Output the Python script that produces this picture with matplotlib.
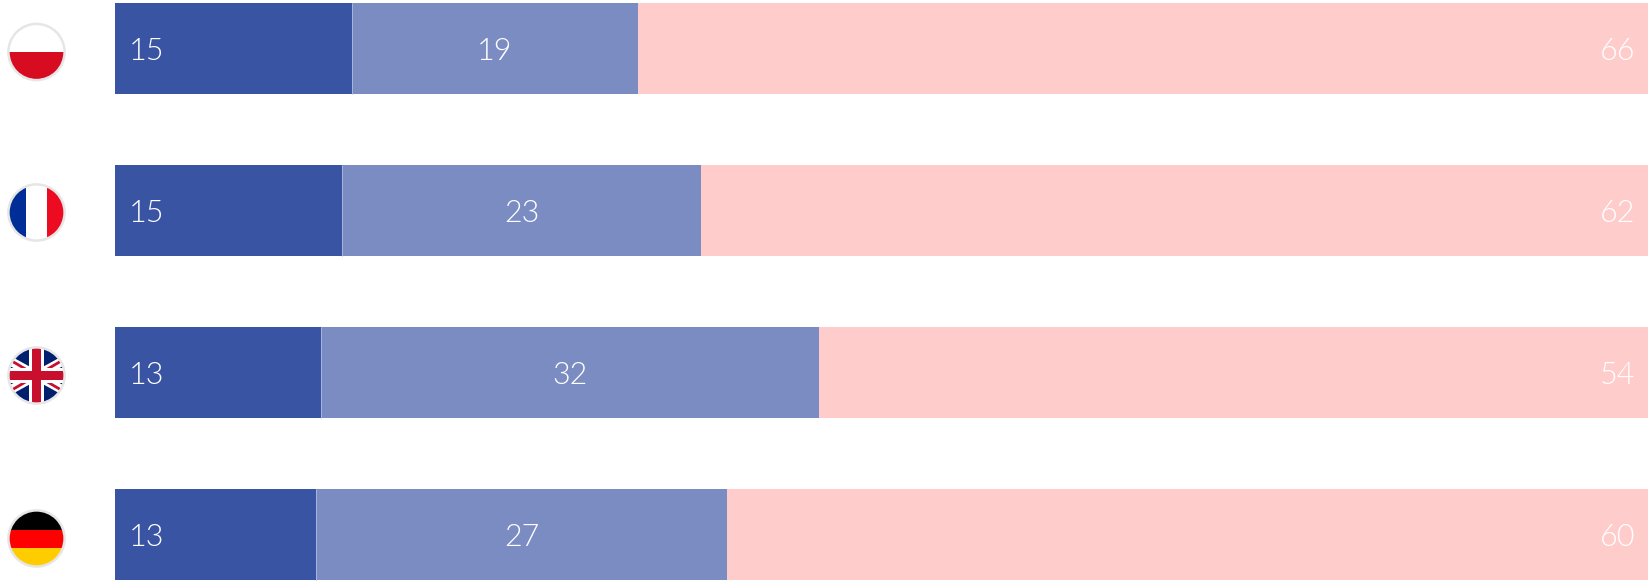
import matplotlib
matplotlib.use('Agg')
import matplotlib.pyplot as plt
import matplotlib.patches as patches

# values, labels as printed in the bars
countries = ['PL', 'FR', 'UK', 'DE']
first = [15.43, 14.77, 13.4, 13.1]
second = [18.67, 23.46, 32.5, 26.8]
third = [65.9, 61.77, 54.1, 60.1]
first_labels = ['15', '15', '13', '13']
second_labels = ['19', '23', '32', '27']
third_labels = ['66', '62', '54', '60']

colors = ['#3A54A4', '#7B8CC2', '#FFCCCC']
W, H = 1649, 582
bar_left = 115
pitch = 162.0
first_center = 48.3

plt.rcParams['font.family'] = ['Lato', 'DejaVu Sans']

fig = plt.figure(figsize=(W / 100, H / 100), dpi=100)
ax = fig.add_axes([bar_left / W, 0, 1 - bar_left / W, 1])
ax.set_xlim(0, 100)
ax.set_ylim((H - first_center) / pitch, -first_center / pitch)
ax.axis('off')

rows = range(len(countries))
height = 91 / pitch
lefts = [0] * len(countries)
for vals, col in zip([first, second, third], colors):
    ax.barh(rows, vals, left=lefts, height=height, color=col, linewidth=0)
    lefts = [a + b for a, b in zip(lefts, vals)]

# faint light seam between the two blue segments
for i in rows:
    ax.vlines(first[i], i - height / 2, i + height / 2, color='#A9B5DC', lw=0.7)

text_style = dict(color='white', fontsize=22, fontweight=300, va='center_baseline')
for i in rows:
    ax.annotate(first_labels[i], (0, i), xytext=(10, 0), textcoords='offset points', ha='left', **text_style)
    ax.text(first[i] + second[i] / 2, i, second_labels[i], ha='center', **text_style)
    ax.annotate(third_labels[i], (100, i), xytext=(-10, 0), textcoords='offset points', ha='right', **text_style)

# flags live in their own pixel-space axes
fax = fig.add_axes([0, 0, 1, 1])
fax.set_xlim(0, W)
fax.set_ylim(H, 0)
fax.axis('off')
fax.patch.set_alpha(0)

R = 27.5


def rect(cx, cy, x0, y0, x1, y1, color, clip):
    p = patches.Rectangle((cx + x0, cy + y0), x1 - x0, y1 - y0, color=color, lw=0)
    fax.add_patch(p)
    p.set_clip_path(clip)


def stripe(cx, cy, x0, y0, x1, y1, color, lw, clip):
    line, = fax.plot([cx + x0, cx + x1], [cy + y0, cy + y1], color=color, lw=lw,
                     solid_capstyle='butt', zorder=1)
    line.set_clip_path(clip)


def draw_flag(name, cx, cy):
    clip = patches.Circle((cx, cy), R, color='white', lw=0)
    fax.add_patch(clip)
    if name == 'PL':
        rect(cx, cy, -R, 0, R, R, '#D80C20', clip)
    elif name == 'FR':
        rect(cx, cy, -R, -R, -10.5, R, '#002E96', clip)
        rect(cx, cy, 10.2, -R, R, R, '#EC0B21', clip)
    elif name == 'DE':
        rect(cx, cy, -R, -R, R, -9, '#000000', clip)
        rect(cx, cy, -R, -9, R, 9.5, '#FF0000', clip)
        rect(cx, cy, -R, 9.5, R, R, '#FFCC00', clip)
    elif name == 'UK':
        rect(cx, cy, -R, -R, R, R, '#00206F', clip)
        stripe(cx, cy, -R, -R * 0.55, R, R * 0.55, 'white', 6.5, clip)
        stripe(cx, cy, -R, R * 0.55, R, -R * 0.55, 'white', 6.5, clip)
        stripe(cx, cy, -R, -R * 0.55 - 1, R, R * 0.55 + 1, '#C8102E', 2, clip)
        stripe(cx, cy, -R, R * 0.55 + 1, R, -R * 0.55 - 1, '#C8102E', 2, clip)
        rect(cx, cy, -R, -7.5, R, 7.5, 'white', clip)
        rect(cx, cy, -7.5, -R, 7.5, R, 'white', clip)
        rect(cx, cy, -R, -4.5, R, 4.5, '#C8102E', clip)
        rect(cx, cy, -4.5, -R, 4.5, R, '#C8102E', clip)
    fax.add_patch(patches.Circle((cx, cy), R + 0.6, fill=False, ec='#E6E6E6', lw=1.8))


flag_y = [52, 212.5, 375.5, 538.5]
for name, fy in zip(countries, flag_y):
    draw_flag(name, 36.5, fy)

fig.savefig('out.png', dpi=100, facecolor='white')
